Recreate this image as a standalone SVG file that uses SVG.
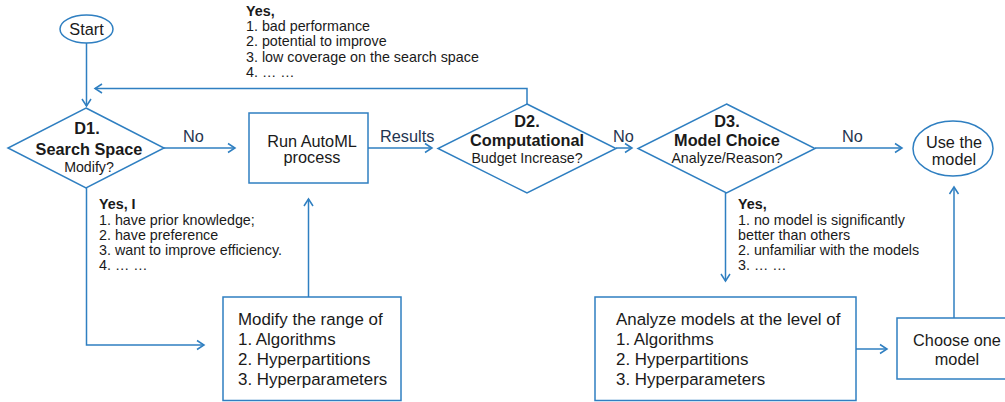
<svg xmlns="http://www.w3.org/2000/svg" width="1005" height="402" viewBox="0 0 1005 402">
<defs>
<marker id="arr" markerUnits="userSpaceOnUse" markerWidth="12" markerHeight="12" viewBox="0 0 12 12" refX="9" refY="6" orient="auto">
<path d="M2,1.5 L9,6 L2,10.5" fill="none" stroke="#2f7fc1" stroke-width="1.5"/>
</marker>
</defs>
<style>
.shape{fill:#fff;stroke:#2f7fc1;stroke-width:1.5}
.con{fill:none;stroke:#2f7fc1;stroke-width:1.5}
text{font-family:"Liberation Sans",Arial,sans-serif;fill:#1a1a1a}
.t16{font-size:16.3px}
.t17{font-size:16.9px}
.b16{font-size:16.3px;font-weight:bold}
.t14{font-size:14.2px}
.ann{font-size:14.3px}
.annb{font-size:14.3px;font-weight:bold}
.lbl{font-size:16.3px;fill:#1f3550}
</style>
<rect width="1005" height="402" fill="#fff"/>
<g id="connectors">
<path class="con" d="M86.5,43 L86.5,106" marker-end="url(#arr)"/>
<path class="con" d="M527,104 L527,88.5 L95,88.5" marker-end="url(#arr)"/>
<path class="con" d="M164,148 L235,148" marker-end="url(#arr)"/>
<path class="con" d="M368,148 L432,148" marker-end="url(#arr)"/>
<path class="con" d="M616,148 L632,148" marker-end="url(#arr)"/>
<path class="con" d="M815,148 L902,148" marker-end="url(#arr)"/>
<path class="con" d="M86.5,188 L86.5,345 L204,345" marker-end="url(#arr)"/>
<path class="con" d="M308.5,297 L308.5,199" marker-end="url(#arr)"/>
<path class="con" d="M725.5,193 L725.5,281" marker-end="url(#arr)"/>
<path class="con" d="M856,349 L887,349" marker-end="url(#arr)"/>
<path class="con" d="M954,318 L954,187" marker-end="url(#arr)"/>
<text class="lbl" x="183" y="142">No</text>
<text class="lbl" x="380" y="142">Results</text>
<text class="lbl" x="613" y="142">No</text>
<text class="lbl" x="842" y="142">No</text>
<g id="label-d2-yes">
<text class="annb" x="246" y="16">Yes,</text>
<text class="ann" x="246" y="31">1. bad performance</text>
<text class="ann" x="246" y="46.3">2. potential to improve</text>
<text class="ann" x="246" y="61.6">3. low coverage on the search space</text>
<text class="ann" x="246" y="77">4. … …</text>
</g>
<g id="label-d1-yes">
<text class="annb" x="99" y="209">Yes, I</text>
<text class="ann" x="99" y="224.5">1. have prior knowledge;</text>
<text class="ann" x="99" y="239.5">2. have preference</text>
<text class="ann" x="99" y="254.5">3. want to improve efficiency.</text>
<text class="ann" x="99" y="270">4. … …</text>
</g>
<g id="label-d3-yes">
<text class="annb" x="738" y="209">Yes,</text>
<text class="ann" x="738" y="224.5">1. no model is significantly</text>
<text class="ann" x="738" y="239.5">better than others</text>
<text class="ann" x="738" y="254.5">2. unfamiliar with the models</text>
<text class="ann" x="738" y="270">3. … …</text>
</g>
</g>
<g id="start">
<ellipse class="shape" cx="86.5" cy="29" rx="26.5" ry="14"/>
<text class="t16" x="86.5" y="34.5" text-anchor="middle">Start</text>
</g>
<g id="d1">
<polygon class="shape" points="86,108 164,148 86,188 8,148"/>
<text class="b16" x="87" y="134" text-anchor="middle">D1.</text>
<text class="b16" x="89" y="155" text-anchor="middle">Search Space</text>
<text class="t14" x="89" y="172" text-anchor="middle">Modify?</text>
</g>
<g id="run-automl">
<rect class="shape" x="249" y="113" width="119" height="70"/>
<text class="t16" x="312" y="147" text-anchor="middle">Run AutoML</text>
<text class="t16" x="312" y="163" text-anchor="middle">process</text>
</g>
<g id="d2">
<polygon class="shape" points="527,104 616,148.5 527,193 438,148.5"/>
<text class="b16" x="527" y="127" text-anchor="middle">D2.</text>
<text class="b16" x="527" y="146" text-anchor="middle">Computational</text>
<text class="t14" x="527" y="163" text-anchor="middle">Budget Increase?</text>
</g>
<g id="d3">
<polygon class="shape" points="726.5,104 815,148.5 726.5,193 638,148.5"/>
<text class="b16" x="727" y="127" text-anchor="middle">D3.</text>
<text class="b16" x="727" y="146" text-anchor="middle">Model Choice</text>
<text class="t14" x="727" y="163" text-anchor="middle">Analyze/Reason?</text>
</g>
<g id="use-model">
<ellipse class="shape" cx="953" cy="148.5" rx="40" ry="27.5"/>
<text class="t16" x="954" y="148" text-anchor="middle">Use the</text>
<text class="t16" x="954" y="165" text-anchor="middle">model</text>
</g>
<g id="modify-range">
<rect class="shape" x="223" y="297" width="178" height="103.5"/>
<text class="t17" x="238" y="324.5">Modify the range of</text>
<text class="t17" x="238" y="344.5">1. Algorithms</text>
<text class="t17" x="238" y="364.5">2. Hyperpartitions</text>
<text class="t17" x="238" y="384.5">3. Hyperparameters</text>
</g>
<g id="analyze-models">
<rect class="shape" x="595" y="297" width="261" height="103.5"/>
<text class="t17" x="616" y="324.5">Analyze models at the level of</text>
<text class="t17" x="616" y="344.5">1. Algorithms</text>
<text class="t17" x="616" y="364.5">2. Hyperpartitions</text>
<text class="t17" x="616" y="384.5">3. Hyperparameters</text>
</g>
<g id="choose-model">
<rect class="shape" x="897" y="318" width="115" height="61"/>
<text class="t16" x="957" y="346" text-anchor="middle">Choose one</text>
<text class="t16" x="957" y="365" text-anchor="middle">model</text>
</g>
</svg>
